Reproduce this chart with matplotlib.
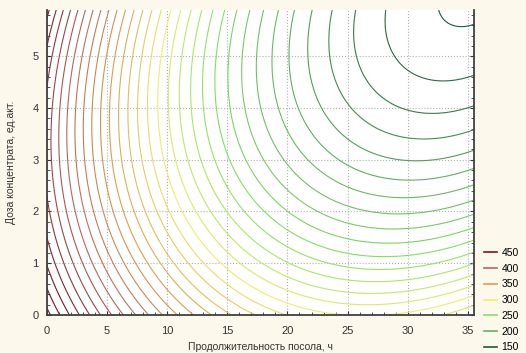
import numpy as np
import matplotlib.pyplot as plt
from matplotlib.colors import LinearSegmentedColormap
from matplotlib.lines import Line2D
from matplotlib.ticker import MultipleLocator

plt.rcParams['font.family'] = ['Liberation Sans', 'DejaVu Sans']

# поверхность отклика (квадратичная модель, оценена по картинке)
x0, y0 = 35.5, 6.3
a, b, c = 0.25, 4.33, -0.72
d = 148

# уровни изолиний
levels = np.arange(150, 481, 10)

# легенда
legend_levels = [450, 400, 350, 300, 250, 200, 150]
legend_colors = ['#6e1c1c', '#b06a5c', '#d9a04a', '#eeee6a', '#80e060', '#62b062', '#1c5a3a']

x = np.linspace(0, 35.5, 300)
y = np.linspace(0, 5.9, 300)
X, Y = np.meshgrid(x, y)
Z = a * (X - x0) ** 2 + b * (Y - y0) ** 2 + c * (X - x0) * (Y - y0) + d

# цветовая шкала по цветам легенды
vmin, vmax = min(legend_levels), max(legend_levels)
anchors = [(v - vmin) / (vmax - vmin) for v in legend_levels[::-1]]
cmap = LinearSegmentedColormap.from_list('stat', list(zip(anchors, legend_colors[::-1])))

fig = plt.figure(figsize=(5.26, 3.53), dpi=100)
fig.patch.set_facecolor('#fdf8ec')
ax = fig.add_axes([0.089, 0.108, 0.812, 0.864])
ax.set_facecolor('white')

ax.contour(X, Y, Z, levels=levels, cmap=cmap, vmin=vmin, vmax=vmax, linewidths=0.8)

ax.set_xlim(0, 35.5)
ax.set_ylim(0, 5.9)
ax.xaxis.set_major_locator(MultipleLocator(5))
ax.xaxis.set_minor_locator(MultipleLocator(1))
ax.yaxis.set_major_locator(MultipleLocator(1))
ax.yaxis.set_minor_locator(MultipleLocator(0.2))
ax.tick_params(which='both', direction='in', right=True, labelsize=8, colors='#333333', labelcolor='#333333')
ax.tick_params(which='major', length=3)
ax.tick_params(which='minor', length=2)
ax.tick_params(axis='x', pad=8)
ax.tick_params(axis='y', pad=6)
ax.grid(True, which='major', linestyle=':', color='#b0b0b0', linewidth=0.8)

for s in ['left', 'bottom', 'right']:
    ax.spines[s].set_color('#404040')
    ax.spines[s].set_linewidth(1.3)
ax.spines['top'].set_visible(False)

ax.set_xlabel('Продолжительность посола, ч', fontsize=7.5, color='#333333', labelpad=4)
ax.set_ylabel('Доза концентрата, ед.акт.', fontsize=7.5, color='#333333', labelpad=12)

handles = [Line2D([0], [0], color=col, lw=1.2) for col in legend_colors]
ax.legend(handles, [str(v) for v in legend_levels], loc='lower left', bbox_to_anchor=(1.012, -0.14),
          frameon=False, fontsize=7.5, handlelength=1.25, handletextpad=0.4, labelspacing=0.55,
          borderpad=0)

fig.savefig('out.png', dpi=100, facecolor=fig.get_facecolor())
